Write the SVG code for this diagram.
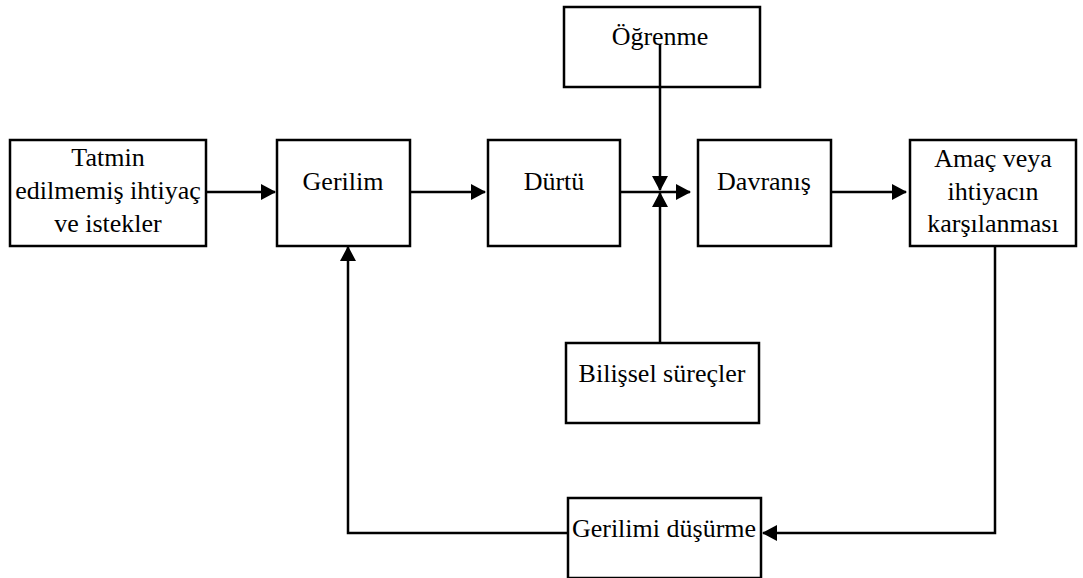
<svg xmlns="http://www.w3.org/2000/svg" width="1083" height="578" viewBox="0 0 1083 578">
<style>
.box{fill:#fff;stroke:#000;stroke-width:2.5}
.t{font-family:"Liberation Serif","Times New Roman",serif;font-size:26px;fill:#000;text-anchor:middle}
.c{fill:none;stroke:#000;stroke-width:2.5}
</style>
<defs>
<marker id="ah" markerWidth="16" markerHeight="16" refX="14" refY="8" orient="auto" markerUnits="userSpaceOnUse">
<path d="M0,0 L15,8 L0,16 Z" fill="#000"/>
</marker>
</defs>
<rect width="1083" height="578" fill="#fff"/>
<g id="n-tatmin"><rect class="box" x="10" y="140" width="196" height="106"/>
<text class="t" x="108" y="166">Tatmin</text><text class="t" x="108" y="199">edilmemiş ihtiyaç</text><text class="t" x="108" y="232">ve istekler</text></g>
<g id="n-gerilim"><rect class="box" x="277" y="140" width="133" height="106"/><text class="t" x="343" y="190">Gerilim</text></g>
<g id="n-durtu"><rect class="box" x="488" y="140" width="132" height="106"/><text class="t" x="554" y="190">Dürtü</text></g>
<g id="n-ogrenme"><rect class="box" x="564" y="7" width="196" height="80"/><text class="t" x="660" y="45">Öğrenme</text></g>
<g id="n-davranis"><rect class="box" x="698" y="140" width="133" height="106"/><text class="t" x="764" y="190">Davranış</text></g>
<g id="n-amac"><rect class="box" x="910" y="140" width="166" height="106"/>
<text class="t" x="993" y="167">Amaç veya</text><text class="t" x="993" y="200">ihtiyacın</text><text class="t" x="993" y="232">karşılanması</text></g>
<g id="n-bilissel"><rect class="box" x="566" y="343" width="193" height="80"/><text class="t" x="662" y="382">Bilişsel süreçler</text></g>
<g id="n-dusurme"><rect class="box" x="568" y="498" width="193" height="80"/><text class="t" x="664" y="537">Gerilimi düşürme</text></g>
<g id="connectors">
<line class="c" x1="206" y1="192" x2="275" y2="192" marker-end="url(#ah)"/>
<line class="c" x1="410" y1="192" x2="485" y2="192" marker-end="url(#ah)"/>
<line class="c" x1="620" y1="192" x2="690" y2="192" marker-end="url(#ah)"/>
<line class="c" x1="831" y1="192" x2="906" y2="192" marker-end="url(#ah)"/>
<line class="c" x1="660" y1="44" x2="660" y2="190" marker-end="url(#ah)"/>
<line class="c" x1="660" y1="343" x2="660" y2="193" marker-end="url(#ah)"/>
<polyline class="c" points="995,246 995,533 763,533" marker-end="url(#ah)"/>
<polyline class="c" points="568,533 348,533 348,247" marker-end="url(#ah)"/>
</g>
</svg>
